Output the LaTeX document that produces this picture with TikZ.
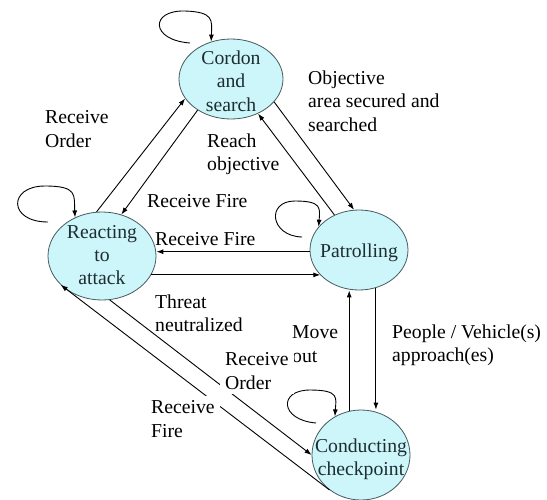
\documentclass[tikz,border=0pt]{standalone}
\usepackage{fontspec}
\setmainfont{Liberation Serif}
\newfontfamily\diagfont{Liberation Serif}
\usetikzlibrary{arrows.meta,shapes.geometric}
\definecolor{stfill}{RGB}{204,246,250}
\definecolor{stdraw}{RGB}{70,90,95}
\definecolor{sttext}{RGB}{30,45,50}
\begin{document}
\begin{tikzpicture}[x=1pt,y=-1pt,
 state/.style={ellipse,draw=stdraw,fill=stfill,line width=0.8pt,inner sep=0pt},
 stxt/.style={align=center,inner sep=0pt,font=\diagfont\fontsize{19.7}{23.3}\selectfont,text=sttext},
 lbl/.style={align=left,anchor=west,inner sep=0pt,font=\diagfont\fontsize{19.7}{23.3}\selectfont},
 wlbl/.style={lbl,fill=white,inner sep=5pt},
 arr/.style={-{Latex[length=7pt,width=5pt]},line width=0.9pt},
]
\useasboundingbox (0,0) rectangle (547,499);
% states
\node[state,minimum width=104pt,minimum height=80pt] (cordon) at (231,79) {};
\node[state,minimum width=108pt,minimum height=88pt] (react) at (102,256) {};
\node[state,minimum width=98pt,minimum height=80pt] (patrol) at (359,250) {};
\node[state,minimum width=98pt,minimum height=90pt] (check) at (361,455) {};
\node[stxt] (cordontxt) at (231,81) {Cordon\\and\\search};
\node[stxt] (reacttxt) at (102,255) {Reacting\\to\\attack};
\node[stxt] (patroltxt) at (359,253) {Patrolling};
\node[stxt] (checktxt) at (361,459.5) {Conducting\\checkpoint};
% self loops
\coordinate (lc) at (190,43);
\coordinate (lr) at (48,222);
\coordinate (lp) at (302,237);
\coordinate (lk) at (316,423);
\draw[arr] (lc) .. controls (150,40) and (150,10) .. (185,11) .. controls (214,12) and (212,20) .. (cordon.118);
\draw[arr] (lr) .. controls (8,222) and (8,186) .. (45,186) .. controls (78,186) and (74,195) .. (react.125);
\draw[arr] (lp) .. controls (270,236) and (266,201) .. (295,201) .. controls (322,201) and (320,208) .. (patrol.150);
\draw[arr] (lk) .. controls (280,420) and (278,390) .. (310,390) .. controls (340,390) and (336,398) .. (check.124);
% transitions
\draw[arr] (react.97) -- (cordon.203);
\draw[arr] (cordon.223) -- (react.65);
\draw[arr] (cordon.332) -- (patrol.97);
\draw[arr] (patrol.125) -- (cordon.308);
\draw[arr] (patrol.182) -- (patrol.182 -| react.east);
\draw[arr] (react.339) -- (react.339 -| patrol.213);
\draw[arr] (check.105) -- (check.105 |- patrol.south);
\draw[arr] (patrol.294) -- (patrol.294 |- check.north);
\draw[arr] (react.280) -- (check.180);
\draw[arr] (check.228) -- (react.215);
% labels
\node[lbl] (l1) at (45,129) {Receive\\Order};
\node[lbl] (l2) at (207,154) {Reach\\objective};
\node[lbl] (l3) at (147,201) {Receive Fire};
\node[lbl] (l4) at (155,239) {Receive Fire};
\node[lbl] (l5) at (308,101) {Objective\\area secured and\\searched};
\node[lbl] (l6) at (155,313) {Threat\\neutralized};
\node[lbl] (l7) at (292,344) {Move\\out};
\node[lbl] (l8) at (392,345) {People / Vehicle(s)\\approach(es)};
\node[wlbl] (l9) at (220,371) {Receive\\Order};
\node[wlbl] (l10) at (146,419) {Receive\\Fire};
\end{tikzpicture}
\end{document}
